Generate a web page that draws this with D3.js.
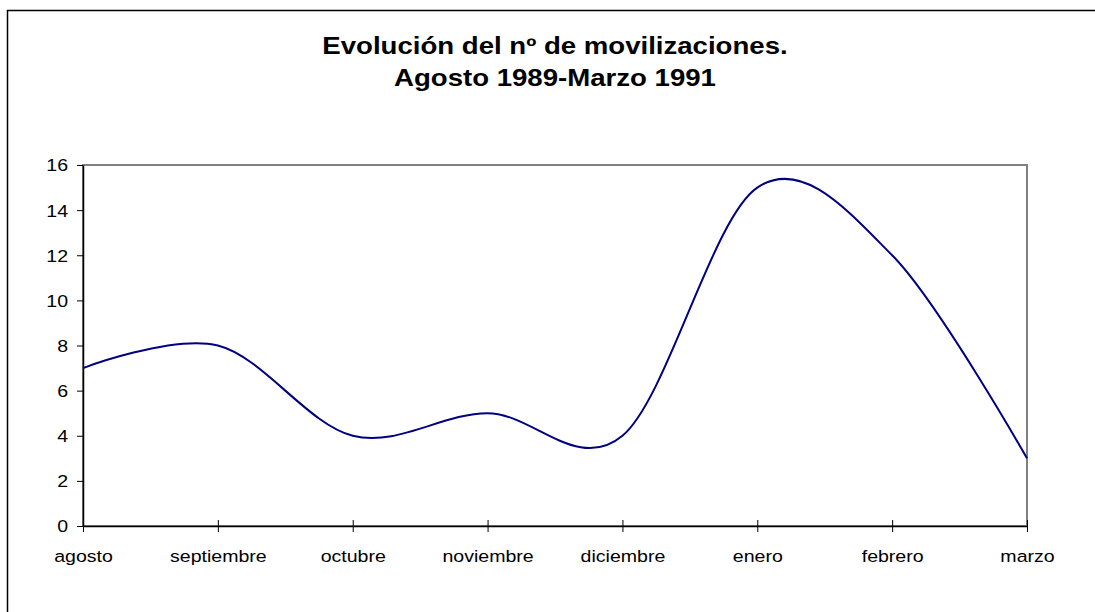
<!DOCTYPE html>
<html lang="es">
<head>
  <meta charset="UTF-8">
  <title>Evolución del nº de movilizaciones</title>
  <style>
    body { margin: 0; background: #fff; }
    .warp { width: 1095px; height: 612px; }
    text { font-family: "Liberation Sans", Arial, sans-serif; fill: #000; }
    .frame { fill: none; stroke: #000; stroke-width: 1.5; }
    .plotbox { fill: none; stroke: #808080; stroke-width: 2; }
    .serie { fill: none; stroke: #000080; stroke-width: 2; }
  </style>
</head>
<body>
  <div class="warp"></div>
  <script src="https://cdn.jsdelivr.net/npm/d3@7"></script>
  <script>
    // datos
    var meses = ['agosto', 'septiembre', 'octubre', 'noviembre', 'diciembre', 'enero', 'febrero', 'marzo'];
    var movilizaciones = [7, 8, 4, 5, 4, 15, 12, 3];
    var yTicks = [0, 2, 4, 6, 8, 10, 12, 14, 16];
    var titulo = ['Evolución del nº de movilizaciones.', 'Agosto 1989-Marzo 1991'];

    var W = 1095, H = 612;
    var plot = { left: 83, right: 1027, top: 165, bottom: 526 };
    var sxTick = 1.15, sxTitle = 1.2; // el texto original sale algo estirado a lo ancho

    var svg = d3.select('.warp').append('svg')
      .attr('width', W)
      .attr('height', H);

    // marco exterior (solo se ve arriba e izquierda)
    svg.append('path')
      .attr('class', 'frame')
      .attr('d', 'M7.5,' + H + ' V10.5 H' + W);

    var x = d3.scalePoint().domain(meses).range([plot.left, plot.right]);
    var y = d3.scaleLinear().domain([0, 16]).range([plot.bottom, plot.top]);

    // borde del área de trazado
    svg.append('rect')
      .attr('class', 'plotbox')
      .attr('x', plot.left)
      .attr('y', plot.top)
      .attr('width', plot.right - plot.left)
      .attr('height', plot.bottom - plot.top);

    // eje Y
    var gy = svg.append('g')
      .attr('transform', 'translate(' + plot.left + ',0)')
      .call(d3.axisLeft(y).tickValues(yTicks).tickSize(6).tickSizeOuter(0).tickPadding(9));
    gy.select('.domain').attr('stroke', '#000').attr('stroke-width', 1.5);
    gy.selectAll('.tick line').attr('stroke', '#000');
    gy.selectAll('.tick text')
      .style('font-size', '17px')
      .attr('dy', '0.35em')
      .attr('transform', function () {
        var tx = +d3.select(this).attr('x');
        return 'translate(' + tx + ',0) scale(' + sxTick + ',1)';
      })
      .attr('x', 0);

    // eje X
    var gx = svg.append('g')
      .attr('transform', 'translate(0,' + plot.bottom + ')')
      .call(d3.axisBottom(x).tickSize(6).tickSizeOuter(0).tickPadding(0));
    gx.select('.domain').attr('stroke', '#000').attr('stroke-width', 1.5);
    gx.selectAll('.tick line').attr('stroke', '#000').attr('y1', -6);
    gx.selectAll('.tick text')
      .style('font-size', '17px')
      .attr('y', 0)
      .attr('dy', 0)
      .attr('transform', 'translate(0,36) scale(' + sxTick + ',1)');

    // serie suavizada (como Excel)
    var line = d3.line()
      .x(function (d, i) { return x(meses[i]); })
      .y(function (d) { return y(d); })
      .curve(d3.curveCardinal.tension(0));

    svg.append('path')
      .datum(movilizaciones)
      .attr('class', 'serie')
      .attr('d', line);

    // título
    svg.append('g')
      .selectAll('text')
      .data(titulo)
      .enter()
      .append('text')
      .attr('text-anchor', 'middle')
      .style('font-size', '23px')
      .style('font-weight', 'bold')
      .attr('transform', function (d, i) {
        return 'translate(555,' + (54 + i * 32) + ') scale(' + sxTitle + ',1)';
      })
      .text(function (d) { return d; });
  </script>
</body>
</html>
